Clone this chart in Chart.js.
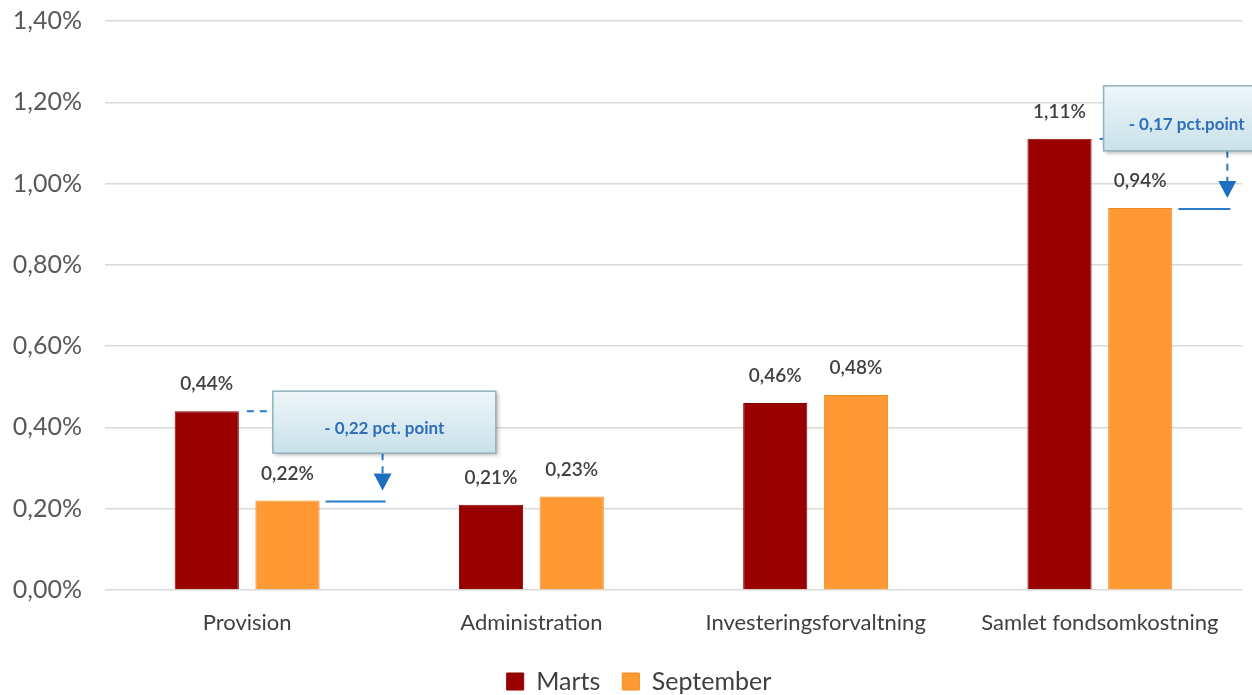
<!DOCTYPE html>
<html>
<head>
<meta charset="utf-8">
<script src="https://cdn.jsdelivr.net/npm/chart.js@4"></script>
<style>
  html, body { margin: 0; padding: 0; background: #fff; }
  #wrap { width: 1252px; height: 695px; }
</style>
</head>
<body>
<div id="wrap"><canvas id="chart"></canvas></div>
<script>
// Chart data
const categories = ['Provision', 'Administration', 'Investeringsforvaltning', 'Samlet fondsomkostning'];
const marts = [0.44, 0.21, 0.46, 1.11];
const september = [0.22, 0.23, 0.48, 0.94];
const yTicks = [0, 0.2, 0.4, 0.6, 0.8, 1.0, 1.2, 1.4];

// Change callouts (category index + text)
const calloutCategories = [0, 3];
const calloutTexts = ['- 0,22 pct. point', '- 0,17 pct.point'];

const FONT = 'Lato, "Open Sans", sans-serif';

function pct(v) {
  return v.toFixed(2).replace('.', ',') + '%';
}

// Value labels above bars
const valueLabels = {
  id: 'valueLabels',
  afterDatasetsDraw(chart) {
    const ctx = chart.ctx;
    ctx.save();
    ctx.font = '600 19px ' + FONT;
    ctx.fillStyle = '#404040';
    ctx.textAlign = 'center';
    ctx.textBaseline = 'middle';
    chart.data.datasets.forEach((ds, i) => {
      chart.getDatasetMeta(i).data.forEach((bar, j) => {
        ctx.fillText(pct(ds.data[j]), bar.x, bar.y - 27);
      });
    });
    ctx.restore();
  }
};

// Callout boxes with arrows
const callouts = {
  id: 'callouts',
  afterDatasetsDraw(chart) {
    const ctx = chart.ctx;
    const m = chart.getDatasetMeta(0).data;
    const s = chart.getDatasetMeta(1).data;
    const lineCol = '#2a7bc8';
    calloutCategories.forEach((ci, k) => {
      const mb = m[ci], sb = s[ci];
      const mRight = mb.x + mb.width / 2;
      const sRight = sb.x + sb.width / 2;
      let box, arrowX;
      if (k === 0) {
        box = { x: mRight + 34, y: mb.y - 20, w: 223, h: 62 };
        arrowX = sRight + 63;
      } else {
        box = { x: mRight + 12, y: mb.y - 53, w: 170, h: 65 };
        arrowX = sRight + 55;
      }
      ctx.save();
      ctx.strokeStyle = lineCol;
      ctx.lineWidth = 2;
      // dashed line from marts top to box
      ctx.setLineDash([7, 6]);
      ctx.beginPath();
      ctx.moveTo(mRight + 8, mb.y);
      ctx.lineTo(box.x, mb.y);
      ctx.stroke();
      // dashed vertical to arrow
      const tipY = sb.y - 10;
      ctx.beginPath();
      ctx.moveTo(arrowX, box.y + box.h);
      ctx.lineTo(arrowX, tipY - 16);
      ctx.stroke();
      ctx.setLineDash([]);
      // solid line at september level
      ctx.beginPath();
      ctx.moveTo(sRight + 6, sb.y + 1);
      ctx.lineTo(arrowX + 3, sb.y + 1);
      ctx.stroke();
      // arrow head
      ctx.fillStyle = '#1f6fc0';
      ctx.beginPath();
      ctx.moveTo(arrowX - 9, tipY - 17);
      ctx.lineTo(arrowX + 9, tipY - 17);
      ctx.lineTo(arrowX, tipY);
      ctx.closePath();
      ctx.fill();
      // box with shadow and gradient
      ctx.shadowColor = 'rgba(0,0,0,0.3)';
      ctx.shadowBlur = 4;
      ctx.shadowOffsetX = 2;
      ctx.shadowOffsetY = 2;
      const g = ctx.createLinearGradient(0, box.y, 0, box.y + box.h);
      g.addColorStop(0, '#eef6f9');
      g.addColorStop(1, '#c9e1ea');
      ctx.fillStyle = g;
      ctx.fillRect(box.x, box.y, box.w, box.h);
      ctx.shadowColor = 'transparent';
      ctx.strokeStyle = '#8eb1be';
      ctx.lineWidth = 1.5;
      ctx.strokeRect(box.x, box.y, box.w, box.h);
      // text
      ctx.fillStyle = '#2e6fb8';
      ctx.font = 'bold 17px ' + FONT;
      ctx.textAlign = 'center';
      ctx.textBaseline = 'middle';
      const tx = k === 0 ? box.x + box.w / 2 : box.x + 83;
      ctx.fillText(calloutTexts[k], tx, box.y + box.h * 0.6);
      ctx.restore();
    });
  }
};

// nudge the legend a little to the right, like the original
const legendShift = {
  id: 'legendShift',
  afterUpdate(chart) {
    chart.legend.left += 18;
    chart.legend.right += 18;
  }
};

new Chart(document.getElementById('chart'), {
  type: 'bar',
  data: {
    labels: categories,
    datasets: [
      { label: 'Marts', data: marts, backgroundColor: '#990000', borderColor: '#8a0000', borderWidth: 1 },
      { label: 'September', data: september, backgroundColor: '#ff9933', borderColor: '#f08a25', borderWidth: 1 }
    ]
  },
  options: {
    responsive: true,
    maintainAspectRatio: false,
    animation: false,
    datasets: {
      bar: { categoryPercentage: 0.568, barPercentage: 0.795 }
    },
    layout: { padding: { top: 21, right: 10, left: 0, bottom: -9 } },
    scales: {
      x: {
        grid: { display: false },
        border: { display: false },
        ticks: { color: '#404040', font: { family: FONT, size: 22 }, padding: 12 },
        afterFit(scale) { scale.height = 57; }
      },
      y: {
        min: 0,
        max: 1.4,
        afterBuildTicks(scale) { scale.ticks = yTicks.map(v => ({ value: v })); },
        grid: { color: '#d9d9d9', lineWidth: 1.5, drawTicks: false },
        border: { display: false },
        ticks: {
          color: '#595959',
          font: { family: FONT, size: 25 },
          padding: 23,
          callback: v => pct(v)
        },
        afterFit(scale) {
          scale.width = 105;
          scale.paddingTop = 0;
          scale.paddingBottom = 0;
        }
      }
    },
    plugins: {
      legend: {
        position: 'bottom',
        labels: {
          color: '#404040',
          font: { family: FONT, size: 25 },
          boxWidth: 17,
          boxHeight: 17,
          padding: 22
        }
      },
      tooltip: { enabled: false }
    }
  },
  plugins: [valueLabels, callouts, legendShift]
});
</script>
</body>
</html>
